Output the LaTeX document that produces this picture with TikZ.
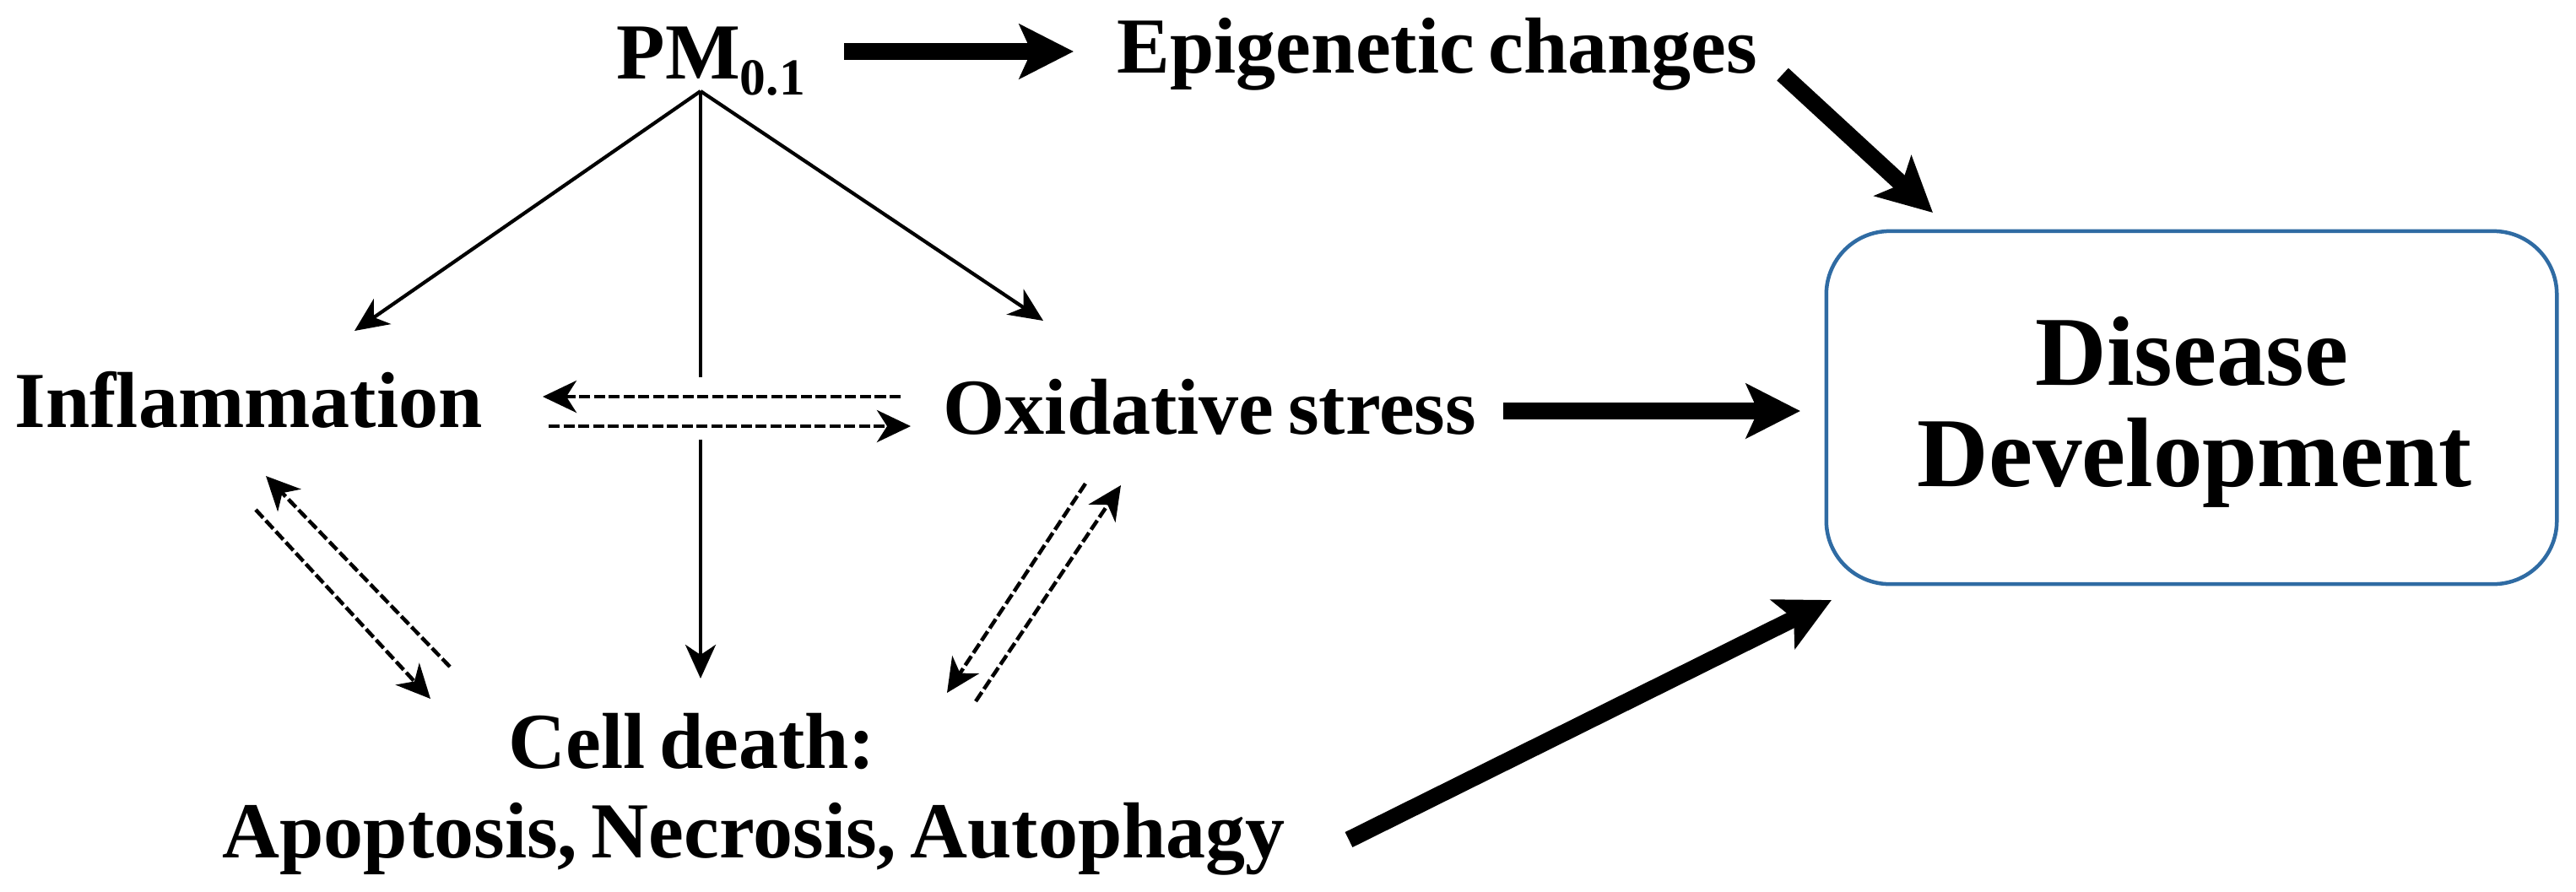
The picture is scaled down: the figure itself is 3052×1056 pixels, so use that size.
\documentclass[tikz,border=0pt]{standalone}
\usepackage{fontspec}
\setmainfont{Liberation Serif}[WordSpace=0.7]
\usetikzlibrary{arrows.meta}
\definecolor{boxblue}{RGB}{47,107,163}
\begin{document}
\begin{tikzpicture}[x=0.01cm, y=-0.01cm,
  lbl/.style={inner sep=0pt, anchor=base west, font=\fontsize{26.75pt}{32pt}\selectfont\bfseries},
  biglbl/.style={inner sep=0pt, anchor=base, font=\fontsize{33.3pt}{40pt}\selectfont\bfseries},
  bigarrow/.style={line width=0.2cm, -{Stealth[length=0.64cm, width=0.64cm, inset=0.14cm]}},
  thinline/.style={line width=0.042cm},
  thinarrow/.style={thinline, -{Stealth[length=0.4cm, width=0.36cm, inset=0.12cm]}},
  dasharrow/.style={line width=0.045cm, dash pattern=on 0.13cm off 0.045cm, -{Stealth[length=0.4cm, width=0.38cm, inset=0.12cm]}},
  outcome/.style={draw=boxblue, line width=0.045cm, rounded corners=0.75cm, minimum width=8.65cm, minimum height=4.18cm, inner sep=0pt}
]
\fill[white] (0,0) rectangle (3052,1056);
\useasboundingbox (0,0) rectangle (3052,1056);

% texts
\node[lbl] (pm) at (730,93) {PM\raisebox{-5.4pt}{\fontsize{17.5pt}{20pt}\selectfont 0.1}};
\node[lbl] (epi) at (1323,86) {Epigenetic changes};
\node[lbl] (infl) at (17,506) {Inflammation};
\node[lbl] (ox) at (1117,514) {Oxidative stress};
\node[lbl] (cd) at (602,910) {Cell death:};
\node[lbl] (cdtypes) at (263,1016) {Apoptosis, Necrosis, Autophagy};
\node[outcome] (box) at (2596.5,483) {};
\node[biglbl] (dis) at (2597,456) {Disease};
\node[biglbl] (dev) at (2600,576) {Development};

% endpoints
\coordinate (apex) at (830,108);
\coordinate (inflTip) at (420,392);
\coordinate (oxTip) at (1236,380);
\coordinate (cdTip) at (830,804);
\coordinate (gapT) at (830,447);
\coordinate (gapB) at (830,521);

\coordinate (a1s) at (1000,61);
\coordinate (a1e) at (1272,61);
\coordinate (a2s) at (2112,88);
\coordinate (a2e) at (2290,252);
\coordinate (a3s) at (1781,487);
\coordinate (a3e) at (2133,487);
\coordinate (a4s) at (1598,995);
\coordinate (a4e) at (2170,711);

\coordinate (h1s) at (1067,470);
\coordinate (h1e) at (643,470);
\coordinate (h2s) at (650,505);
\coordinate (h2e) at (1079,505);
\coordinate (l1s) at (533,790);
\coordinate (l1e) at (315,564);
\coordinate (l2s) at (303,604);
\coordinate (l2e) at (510,828);
\coordinate (r1s) at (1156,831);
\coordinate (r1e) at (1328,575);
\coordinate (r2s) at (1286,573);
\coordinate (r2e) at (1122,821);

% thin solid connectors from PM
\draw[thinarrow] (apex) -- (inflTip);
\draw[thinarrow] (apex) -- (oxTip);
\draw[thinline] (apex) -- (gapT);
\draw[thinarrow] (gapB) -- (cdTip);

% dashed connectors
\draw[dasharrow] (h1s) -- (h1e);
\draw[dasharrow] (h2s) -- (h2e);
\draw[dasharrow] (l1s) -- (l1e);
\draw[dasharrow] (l2s) -- (l2e);
\draw[dasharrow] (r1s) -- (r1e);
\draw[dasharrow] (r2s) -- (r2e);

% thick arrows
\draw[bigarrow] (a1s) -- (a1e);
\draw[bigarrow] (a2s) -- (a2e);
\draw[bigarrow] (a3s) -- (a3e);
\draw[bigarrow] (a4s) -- (a4e);
\end{tikzpicture}
\end{document}
